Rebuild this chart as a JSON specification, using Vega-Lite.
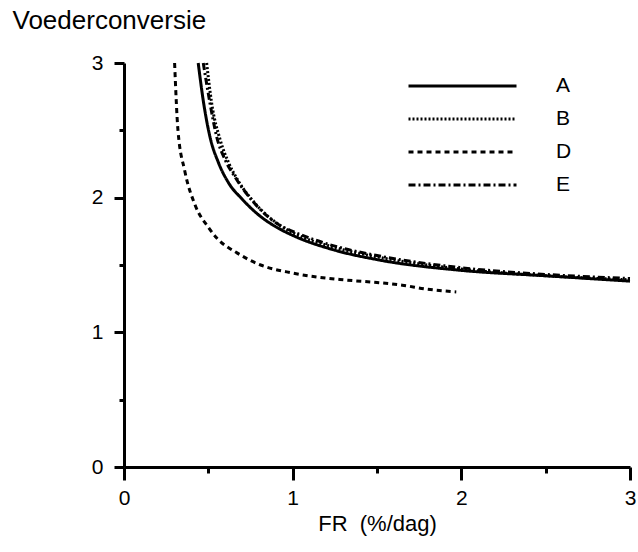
{
  "$schema": "https://vega.github.io/schema/vega-lite/v6.json",
  "width": 506,
  "height": 404,
  "autosize": {"type": "none"},
  "padding": {"left": 124, "top": 63, "right": 8, "bottom": 85},
  "background": "white",
  "config": {
    "view": {"stroke": null},
    "font": "Liberation Sans",
    "axis": {"grid": false, "domainColor": "black", "domainWidth": 3, "tickColor": "black", "tickWidth": 3, "labelColor": "black", "titleColor": "black", "labelFont": "Liberation Sans", "titleFont": "Liberation Sans", "titleFontWeight": "normal", "labelFontSize": 21}
  },
  "data": {
    "values": [
      {"serie": "A", "fr": 0.44, "vc": 3.0},
      {"serie": "A", "fr": 0.47, "vc": 2.72},
      {"serie": "A", "fr": 0.51, "vc": 2.45},
      {"serie": "A", "fr": 0.56, "vc": 2.26},
      {"serie": "A", "fr": 0.62, "vc": 2.11},
      {"serie": "A", "fr": 0.7, "vc": 1.99},
      {"serie": "A", "fr": 0.8, "vc": 1.87},
      {"serie": "A", "fr": 0.92, "vc": 1.77},
      {"serie": "A", "fr": 1.0, "vc": 1.72},
      {"serie": "A", "fr": 1.25, "vc": 1.61},
      {"serie": "A", "fr": 1.5, "vc": 1.54},
      {"serie": "A", "fr": 2.0, "vc": 1.46},
      {"serie": "A", "fr": 2.5, "vc": 1.42},
      {"serie": "A", "fr": 3.0, "vc": 1.38},
      {"serie": "B", "fr": 0.49, "vc": 3.0},
      {"serie": "B", "fr": 0.52, "vc": 2.7},
      {"serie": "B", "fr": 0.57, "vc": 2.43},
      {"serie": "B", "fr": 0.62, "vc": 2.26},
      {"serie": "B", "fr": 0.67, "vc": 2.14},
      {"serie": "B", "fr": 0.79, "vc": 1.94},
      {"serie": "B", "fr": 0.93, "vc": 1.79},
      {"serie": "B", "fr": 1.0, "vc": 1.74},
      {"serie": "B", "fr": 1.25, "vc": 1.63},
      {"serie": "B", "fr": 1.5, "vc": 1.56},
      {"serie": "B", "fr": 2.0, "vc": 1.47},
      {"serie": "B", "fr": 2.5, "vc": 1.42},
      {"serie": "B", "fr": 3.0, "vc": 1.39},
      {"serie": "D", "fr": 0.3, "vc": 3.0},
      {"serie": "D", "fr": 0.32, "vc": 2.5},
      {"serie": "D", "fr": 0.36, "vc": 2.2},
      {"serie": "D", "fr": 0.42, "vc": 1.95},
      {"serie": "D", "fr": 0.5, "vc": 1.78},
      {"serie": "D", "fr": 0.55, "vc": 1.7},
      {"serie": "D", "fr": 0.67, "vc": 1.59},
      {"serie": "D", "fr": 0.81, "vc": 1.5},
      {"serie": "D", "fr": 1.0, "vc": 1.44},
      {"serie": "D", "fr": 1.3, "vc": 1.39},
      {"serie": "D", "fr": 1.5, "vc": 1.37},
      {"serie": "D", "fr": 1.65, "vc": 1.35},
      {"serie": "D", "fr": 1.8, "vc": 1.32},
      {"serie": "D", "fr": 1.97, "vc": 1.3},
      {"serie": "E", "fr": 0.47, "vc": 3.0},
      {"serie": "E", "fr": 0.51, "vc": 2.7},
      {"serie": "E", "fr": 0.55, "vc": 2.45},
      {"serie": "E", "fr": 0.6, "vc": 2.28},
      {"serie": "E", "fr": 0.66, "vc": 2.15},
      {"serie": "E", "fr": 0.78, "vc": 1.95},
      {"serie": "E", "fr": 0.93, "vc": 1.79},
      {"serie": "E", "fr": 1.0, "vc": 1.75},
      {"serie": "E", "fr": 1.25, "vc": 1.64},
      {"serie": "E", "fr": 1.5, "vc": 1.57},
      {"serie": "E", "fr": 2.0, "vc": 1.48},
      {"serie": "E", "fr": 2.5, "vc": 1.43},
      {"serie": "E", "fr": 3.0, "vc": 1.4}
    ]
  },
  "mark": {"type": "line", "interpolate": "monotone", "color": "black", "strokeWidth": 3},
  "encoding": {
    "x": {
      "field": "fr", "type": "quantitative",
      "scale": {"domain": [0, 3], "nice": false},
      "axis": {
        "title": "FR\u00a0\u00a0(%/dag)", "titleFontSize": 22, "titlePadding": 5,
        "values": [0, 0.5, 1, 1.5, 2, 2.5, 3],
        "labelExpr": "datum.value % 1 === 0 ? format(datum.value, 'd') : ''",
        "tickSize": {"condition": {"test": "datum.value % 1 === 0", "value": 13}, "value": 6},
        "labelPadding": 7, "labelFlush": false
      }
    },
    "y": {
      "field": "vc", "type": "quantitative",
      "scale": {"domain": [0, 3], "nice": false},
      "axis": {
        "title": "Voederconversie", "titleFontSize": 26, "titleAngle": 0,
        "titleAlign": "left", "titleBaseline": "alphabetic", "titleX": -112, "titleY": -35,
        "values": [0, 0.5, 1, 1.5, 2, 2.5, 3],
        "labelExpr": "datum.value % 1 === 0 ? format(datum.value, 'd') : ''",
        "tickSize": {"condition": {"test": "datum.value % 1 === 0", "value": 10}, "value": 5},
        "labelPadding": 11, "labelFlush": false
      }
    },
    "strokeDash": {
      "field": "serie", "type": "nominal",
      "scale": {"domain": ["A", "B", "D", "E"], "range": [[1, 0], [2, 2], [5, 4], [7, 3, 2, 3]]},
      "legend": {
        "title": null, "orient": "none", "legendX": 283, "legendY": 12,
        "symbolType": "stroke", "symbolSize": 11664, "symbolStrokeWidth": 3,
        "symbolStrokeColor": "black", "clipHeight": 22, "rowPadding": 11,
        "labelOffset": 38, "labelFontSize": 21, "labelColor": "black", "padding": 0
      }
    }
  }
}
